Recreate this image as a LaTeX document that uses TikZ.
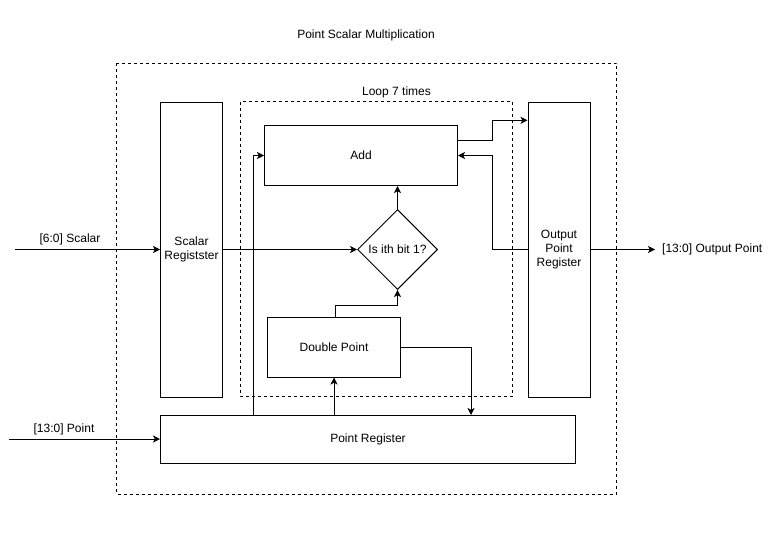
\documentclass[tikz,border=0pt]{standalone}
\usepackage{fontspec}
\setmainfont{Liberation Sans}
\usetikzlibrary{shapes.geometric,arrows.meta}
\begin{document}
\begin{tikzpicture}[x=1pt,y=-1pt,
  every node/.style={font=\fontsize{12}{14}\selectfont, inner sep=0pt},
  box/.style={draw, line width=1pt, align=center},
  dashbox/.style={draw, line width=0.8pt, dash pattern=on 3pt off 3pt},
  conn/.style={line width=1pt, -{Stealth[length=7pt,width=7pt,inset=1.8pt]}},
  plain/.style={line width=1pt}]
\useasboundingbox (0,0) rectangle (775,535);
\fill[white] (0,0) rectangle (775,535);
% frames
\draw[dashbox] (116.5,63) rectangle (616.5,494);
\draw[dashbox] (240.5,101.5) rectangle (512.5,396);
\node (title) at (366,35) {Point Scalar Multiplication};
\node (loop) at (396.5,92.5) {Loop 7 times};
% blocks
\node[box, minimum width=62, minimum height=295] (sr) at (191.5,249.5) {Scalar\\Registster};
\node[box, minimum width=62, minimum height=295] (or) at (559,249.5) {Output\\Point\\Register};
\node[box, minimum width=193, minimum height=60] (add) at (361,155.5) {Add};
\node[draw, line width=1pt, diamond, minimum width=80, minimum height=80, label=center:{Is ith bit 1?}] (d) at (397.5,249.5) {};
\node[box, minimum width=133, minimum height=60] (dp) at (334,347) {Double Point};
\node[box, minimum width=415, minimum height=48] (pr) at (368,439) {Point Register};
% inputs / outputs
\coordinate (sin) at (15,249.5);
\coordinate (pin) at (9,439);
\coordinate (oout) at (655,249.5);
\node[anchor=center] (lsc) at (70,239.5) {[6:0] Scalar};
\node[anchor=center] (lpt) at (64,429.5) {[13:0] Point};
\node[anchor=west] (lout) at (662,249.5) {[13:0] Output Point};
\draw[conn] (sin) -- (sr.west);
\draw[conn] (pin) -- (pr.west);
\draw[conn] (or.east) -- (oout);
% internal connectors
\draw[conn] (sr.east) -- (d.west);
\draw[conn] (d.north) -- (d.north |- add.south);
\coordinate (dpup) at (335,305);
\draw[conn] (dp.north -| dpup) -- (dpup) -| (d.south);
\coordinate (dpdn) at (471,415);
\draw[conn] (dp.east) -| (dpdn);
\draw[conn] (dp.south |- pr.north) -- (dp.south);
\coordinate (praddx) at (253,415);
\draw[conn] (praddx) |- (add.west);
\coordinate (ao1) at (457.7,140.3);
\coordinate (ao2) at (492.3,120.3);
\draw[conn] (ao1) -| (ao2) -- (ao2 -| or.west);
\coordinate (oa1) at (492.3,249.5);
\draw[conn] (or.west) -- (oa1) |- (add.east);
\end{tikzpicture}
\end{document}
